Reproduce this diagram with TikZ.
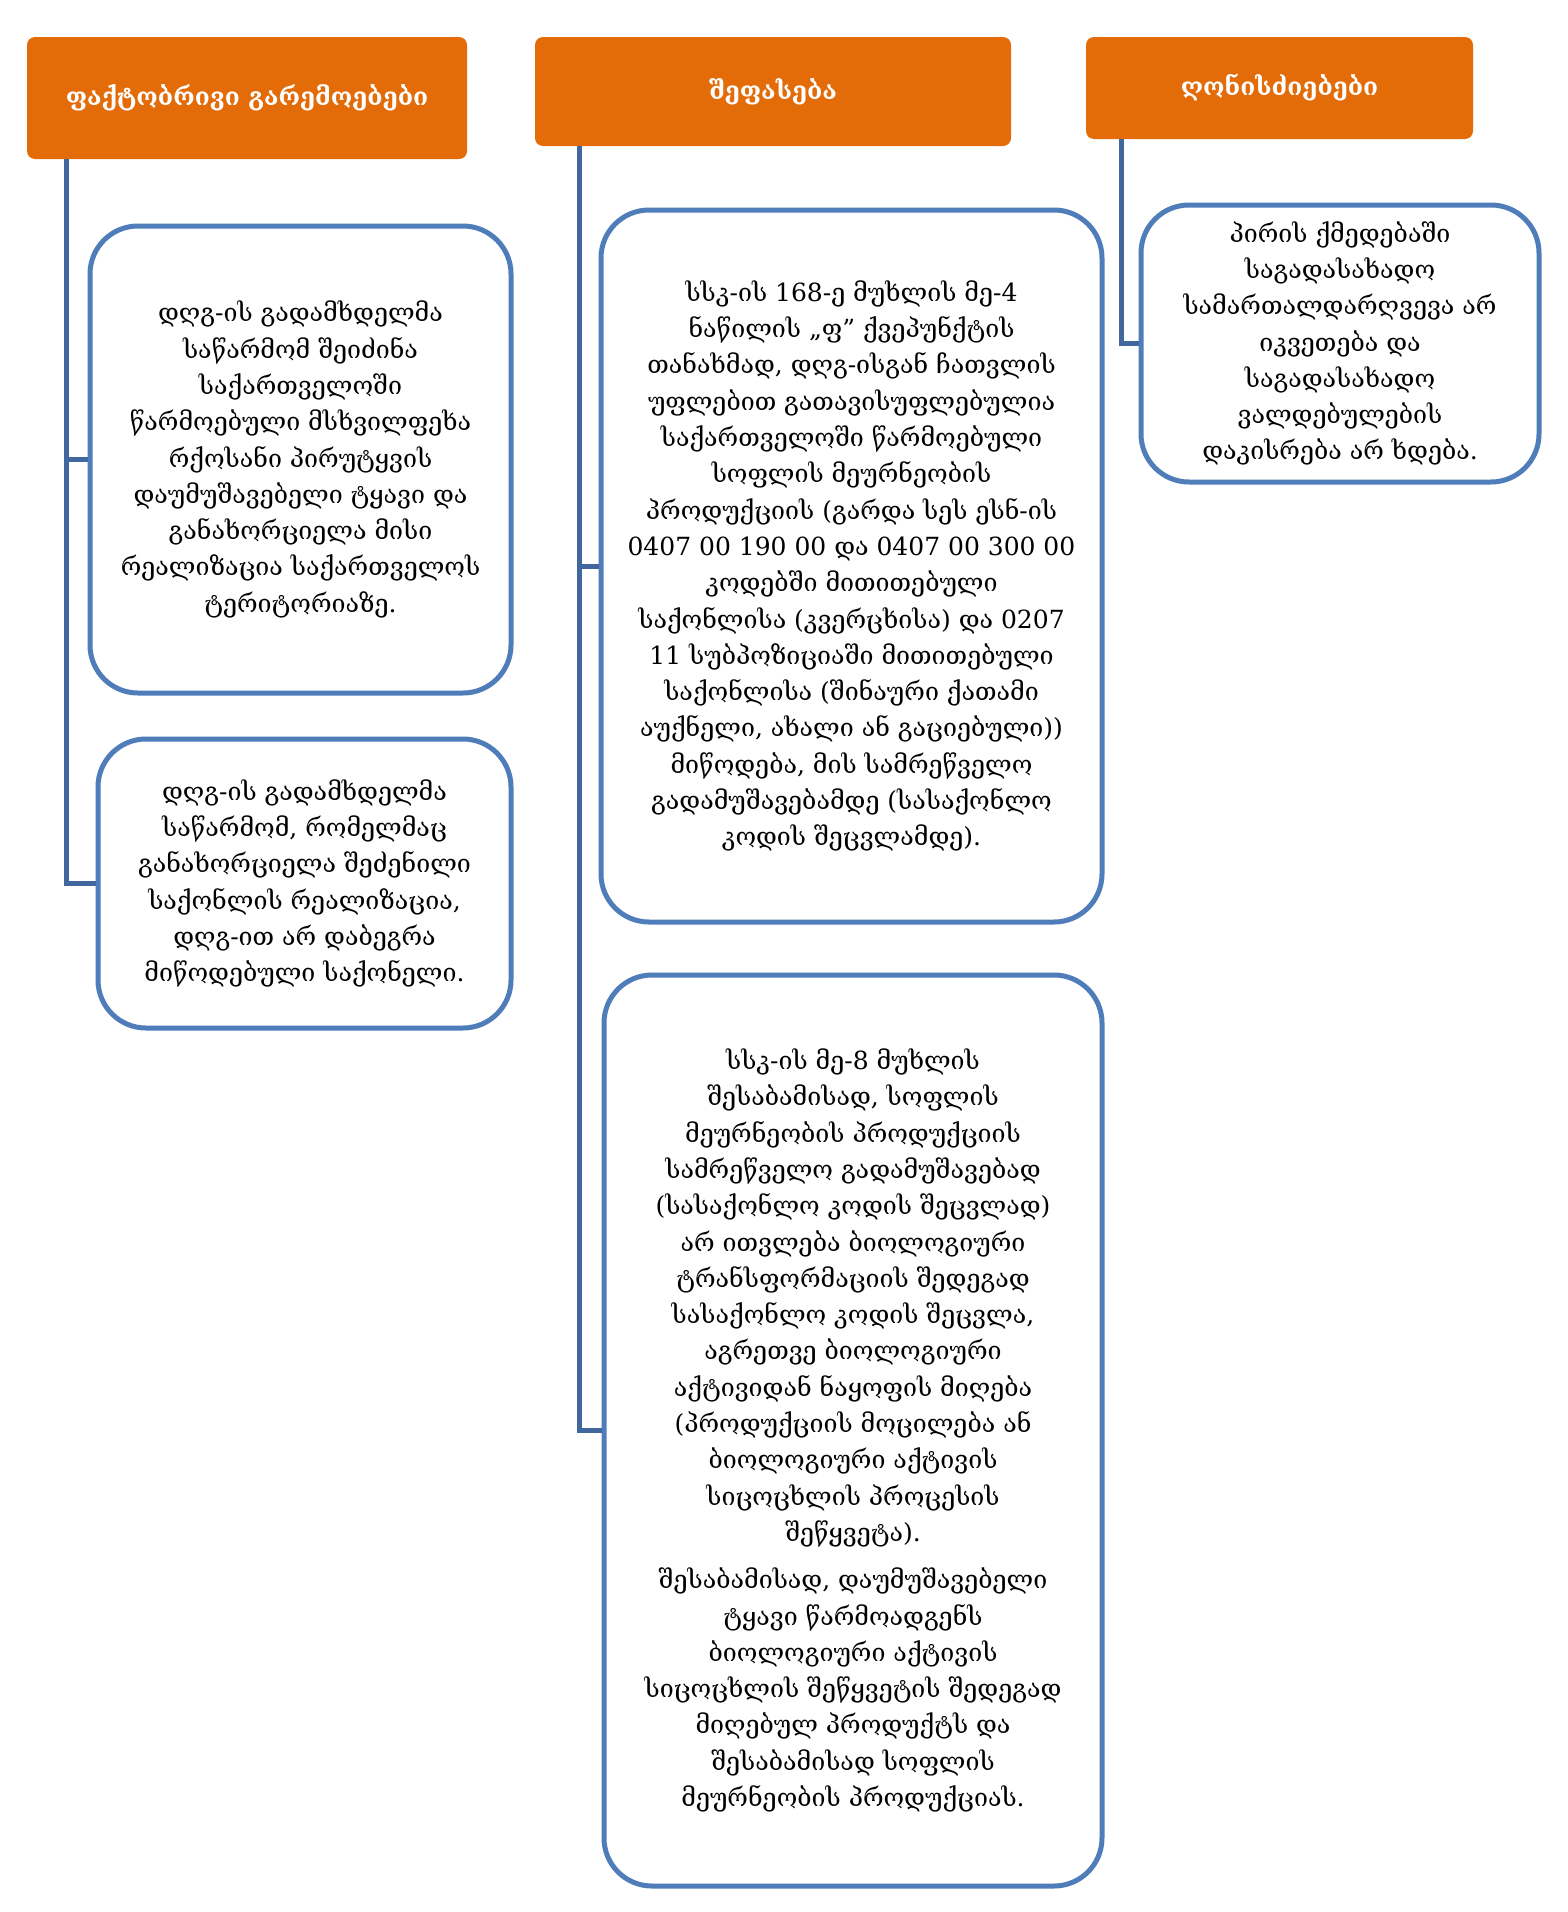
\documentclass[tikz,border=0pt]{standalone}
\usepackage{fontspec}
\setmainfont{DejaVu Serif}
\definecolor{orangeC}{HTML}{E36C09}
\definecolor{boxblue}{HTML}{4F7DBA}
\definecolor{lineblue}{HTML}{41679E}
\begin{document}
\begin{tikzpicture}[x=1pt,y=-1pt,
  head/.style={draw=none, fill=orangeC, rounded corners=8pt, text=white,
    font=\fontsize{24.5}{29}\selectfont\bfseries, inner sep=0pt, align=center},
  bbox/.style={draw=boxblue, line width=5pt, fill=white, rounded corners=48pt,
    align=center, inner sep=0pt, font=\fontsize{25}{36.3}\selectfont},
  conn/.style={draw=lineblue, line width=5pt}]
\useasboundingbox[fill=white] (0,0) rectangle (1568,1912);

\node[head, minimum width=440pt, minimum height=122pt] (h1) at (247,98) {ფაქტობრივი გარემოებები};
\node[head, minimum width=476pt, minimum height=109pt] (h2) at (773,91.5) {შეფასება};
\node[head, minimum width=387pt, minimum height=102pt] (h3) at (1279.5,88) {ღონისძიებები};

\coordinate (t1) at ([xshift=40pt]h1.south west);
\coordinate (t2) at ([xshift=45pt]h2.south west);
\coordinate (t3) at ([xshift=36pt]h3.south west);

\node[bbox, minimum width=421pt, minimum height=467pt] (A) at (300.5,459.5) {დღგ-ის გადამხდელმა\\
საწარმომ შეიძინა\\
საქართველოში\\
წარმოებული მსხვილფეხა\\
რქოსანი პირუტყვის\\
დაუმუშავებელი ტყავი და\\
განახორციელა მისი\\
რეალიზაცია საქართველოს\\
ტერიტორიაზე.};

\node[bbox, minimum width=413pt, minimum height=289pt] (B) at (304.5,883.5) {დღგ-ის გადამხდელმა\\
საწარმომ, რომელმაც\\
განახორციელა შეძენილი\\
საქონლის რეალიზაცია,\\
დღგ-ით არ დაბეგრა\\
მიწოდებული საქონელი.};

\node[bbox, minimum width=501pt, minimum height=712pt] (C) at (851.5,566) {სსკ-ის 168-ე მუხლის მე-4\\
ნაწილის „ფ" ქვეპუნქტის\\
თანახმად, დღგ-ისგან ჩათვლის\\
უფლებით გათავისუფლებულია\\
საქართველოში წარმოებული\\
სოფლის მეურნეობის\\
პროდუქციის (გარდა სეს ესნ-ის\\
0407 00 190 00 და 0407 00 300 00\\
კოდებში მითითებული\\
საქონლისა (კვერცხისა) და 0207\\
11 სუბპოზიციაში მითითებული\\
საქონლისა (შინაური ქათამი\\
აუქნელი, ახალი ან გაციებული))\\
მიწოდება, მის სამრეწველო\\
გადამუშავებამდე (სასაქონლო\\
კოდის შეცვლამდე).};

\node[bbox, minimum width=498pt, minimum height=911pt] (D) at (853,1430.5) {სსკ-ის მე-8 მუხლის\\
შესაბამისად, სოფლის\\
მეურნეობის პროდუქციის\\
სამრეწველო გადამუშავებად\\
(სასაქონლო კოდის შეცვლად)\\
არ ითვლება ბიოლოგიური\\
ტრანსფორმაციის შედეგად\\
სასაქონლო კოდის შეცვლა,\\
აგრეთვე ბიოლოგიური\\
აქტივიდან ნაყოფის მიღება\\
(პროდუქციის მოცილება ან\\
ბიოლოგიური აქტივის\\
სიცოცხლის პროცესის\\
შეწყვეტა).\\[11pt]
შესაბამისად, დაუმუშავებელი\\
ტყავი წარმოადგენს\\
ბიოლოგიური აქტივის\\
სიცოცხლის შეწყვეტის შედეგად\\
მიღებულ პროდუქტს და\\
შესაბამისად სოფლის\\
მეურნეობის პროდუქციას.};

\node[bbox, minimum width=398pt, minimum height=277pt] (E) at (1340,343.5) {პირის ქმედებაში\\
საგადასახადო\\
სამართალდარღვევა არ\\
იკვეთება და\\
საგადასახადო\\
ვალდებულების\\
დაკისრება არ ხდება.};

\draw[conn] (t1) |- (B.west);
\draw[conn] (t1 |- A.west) -- (A.west);
\draw[conn] (t2) |- (D.west);
\draw[conn] (t2 |- C.west) -- (C.west);
\draw[conn] (t3) |- (E.west);
\end{tikzpicture}
\end{document}
